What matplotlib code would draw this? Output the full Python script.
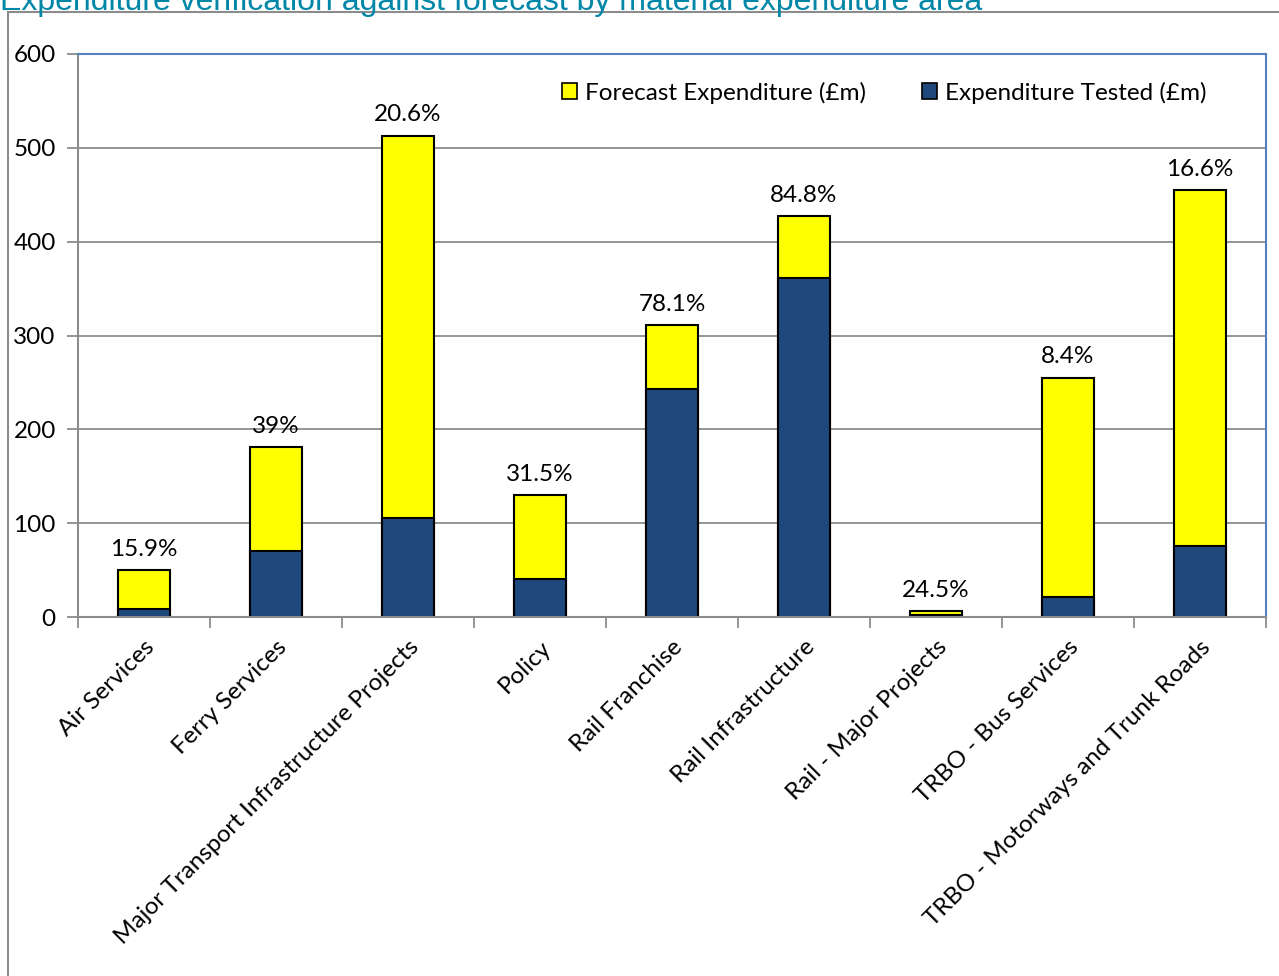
import matplotlib.pyplot as plt
from matplotlib.lines import Line2D
from matplotlib.patches import Patch

# data
categories = ["Air Services", "Ferry Services", "Major Transport Infrastructure Projects",
              "Policy", "Rail Franchise", "Rail Infrastructure", "Rail - Major Projects",
              "TRBO - Bus Services", "TRBO - Motorways and Trunk Roads"]
forecast = [50, 181, 513, 130, 311, 427, 6.4, 255, 455]
tested = [8, 70.5, 105.5, 41, 243, 361, 1.6, 21.4, 75.5]
pct_labels = ["15.9%", "39%", "20.6%", "31.5%", "78.1%", "84.8%", "24.5%", "8.4%", "16.6%"]
y_ticks = [0, 100, 200, 300, 400, 500, 600]

FONT = "Lato"
FS = 17.5
YELLOW = "#FFFF00"
NAVY = "#1F497D"
GRID = "#8C8C8C"
BLUE_EDGE = "#4F81BD"

fig = plt.figure(figsize=(12.79, 9.76), dpi=100)

# outer chart frame (only top and left edges visible in the crop)
fig.add_artist(Line2D([8 / 1279, 8 / 1279], [0, 1 - 12 / 976], transform=fig.transFigure,
                      color="#8C8C8C", lw=1.5))
fig.add_artist(Line2D([8 / 1279, 1], [1 - 12 / 976, 1 - 12 / 976], transform=fig.transFigure,
                      color="#8C8C8C", lw=1.5))

# title, clipped by the top edge as in the reference
fig.text(0.0, 1.0 - 10 / 976, "Expenditure verification against forecast by material expenditure area",
         family="Liberation Sans", fontsize=23, color="#0087A8", ha="left", va="baseline")

ax = fig.add_axes([78 / 1279, 1 - 617 / 976, (1266 - 78) / 1279, (617 - 54) / 976])

x = list(range(len(categories)))
ax.bar(x, forecast, width=0.4, color=YELLOW, edgecolor="black", linewidth=1.5, zorder=3,
       label="Forecast Expenditure (£m)")
ax.bar(x, tested, width=0.4, color=NAVY, edgecolor="black", linewidth=1.5, zorder=4,
       label="Expenditure Tested (£m)")

for xi, f, lab in zip(x, forecast, pct_labels):
    ax.text(xi, f + 11, lab, ha="center", va="bottom", family=FONT, fontsize=FS, color="black")

ax.set_xlim(-0.5, len(categories) - 0.5)
ax.set_ylim(0, 600)
ax.set_yticks(y_ticks)
ax.set_yticklabels([str(v) for v in y_ticks], family=FONT, fontsize=FS)
ax.yaxis.grid(True, color=GRID, lw=1.3, zorder=0)

# category labels at centres, tick marks between categories
ax.set_xticks(x)
ax.set_xticklabels(categories, rotation=45, ha="right", rotation_mode="anchor",
                   family=FONT, fontsize=FS)
ax.tick_params(axis="x", which="major", length=0, pad=14)
ax.set_xticks([i + 0.5 for i in range(-1, len(categories))], minor=True)
ax.tick_params(axis="x", which="minor", length=8, width=1.3, color=GRID, direction="out")
ax.tick_params(axis="y", length=8, width=1.3, color=GRID, direction="out", pad=8)

ax.spines["left"].set_color(GRID)
ax.spines["bottom"].set_color(GRID)
ax.spines["left"].set_linewidth(1.5)
ax.spines["bottom"].set_linewidth(1.5)
ax.spines["top"].set_color(BLUE_EDGE)
ax.spines["right"].set_color(BLUE_EDGE)
ax.spines["top"].set_linewidth(1.5)
ax.spines["right"].set_linewidth(1.5)
ax.spines["bottom"].set_zorder(5)

handles = [Patch(facecolor=YELLOW, edgecolor="black", lw=1.2, label="Forecast Expenditure (£m)"),
           Patch(facecolor=NAVY, edgecolor="black", lw=1.2, label="Expenditure Tested (£m)")]
ax.legend(handles=handles, loc="upper right", bbox_to_anchor=(0.968, 0.99), ncol=2,
          frameon=False, prop={"family": FONT, "size": FS}, handlelength=0.65, handleheight=0.65,
          handletextpad=0.3, columnspacing=2.3)

fig.savefig("out.png", dpi=100)
